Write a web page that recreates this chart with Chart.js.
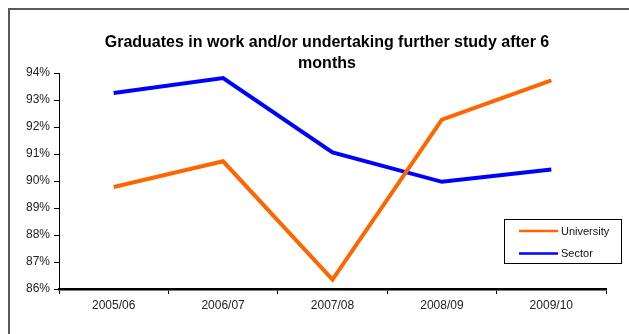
<!DOCTYPE html>
<html>
<head>
<meta charset="utf-8">
<title>Graduates in work and/or further study</title>
<script src="https://cdn.jsdelivr.net/npm/chart.js@4/dist/chart.umd.min.js"></script>
<style>
  html, body { margin: 0; padding: 0; background: #fff; }
  #wrap { width: 629px; height: 334px; }
</style>
</head>
<body>
<div id="wrap"><canvas id="gradChart" width="629" height="334"></canvas></div>
<script>
const years = ["2005/06", "2006/07", "2007/08", "2008/09", "2009/10"];
const university = [89.78, 90.73, 86.35, 92.27, 93.73];
const sector = [93.26, 93.81, 91.06, 89.97, 90.43];
const titleLines = ["Graduates in work and/or undertaking further study after 6", "months"];
const yMin = 86;
const yMax = 94;

const FONT = "'Liberation Sans', Arial, sans-serif";

// grey frame around the whole chart (only top and left edges fall inside the canvas)
const framePlugin = {
  id: "frame",
  beforeDraw(chart) {
    const ctx = chart.ctx;
    ctx.save();
    ctx.fillStyle = "#fff";
    ctx.fillRect(0, 0, chart.width, chart.height);
    ctx.strokeStyle = "#5a5a5a";
    ctx.lineWidth = 2;
    ctx.beginPath();
    ctx.moveTo(9, chart.height);
    ctx.lineTo(9, 9);
    ctx.lineTo(chart.width, 9);
    ctx.stroke();
    ctx.restore();
  }
};

// two-line bold title, squeezed a little like the original chart
const titlePlugin = {
  id: "twoLineTitle",
  afterDraw(chart) {
    const ctx = chart.ctx;
    ctx.save();
    ctx.fillStyle = "#000";
    ctx.font = "bold 16px " + FONT;
    ctx.textAlign = "center";
    ctx.textBaseline = "alphabetic";
    ctx.fillText(titleLines[0], 327, 47, 448);
    ctx.fillText(titleLines[1], 327, 68);
    ctx.restore();
  }
};

// boxed legend sitting in the lower right of the plot
const boxLegendPlugin = {
  id: "boxLegend",
  afterDraw(chart) {
    const ctx = chart.ctx;
    const box = { x: 504.5, y: 219.5, w: 117, h: 44 };
    ctx.save();
    ctx.fillStyle = "#fff";
    ctx.fillRect(box.x, box.y, box.w, box.h);
    ctx.strokeStyle = "#000";
    ctx.lineWidth = 1;
    ctx.strokeRect(box.x, box.y, box.w, box.h);
    ctx.font = "11px " + FONT;
    ctx.textAlign = "left";
    ctx.textBaseline = "middle";
    chart.data.datasets.forEach((ds, i) => {
      const y = 231 + i * 22.5;
      ctx.strokeStyle = ds.borderColor;
      ctx.lineWidth = 2.5;
      ctx.beginPath();
      ctx.moveTo(519, y);
      ctx.lineTo(558, y);
      ctx.stroke();
      ctx.fillStyle = "#111";
      ctx.fillText(ds.label, 561, y + 0.5);
    });
    ctx.restore();
  }
};

new Chart(document.getElementById("gradChart"), {
  type: "line",
  data: {
    labels: years,
    datasets: [
      {
        label: "University",
        data: university,
        borderColor: "#ff6600",
        backgroundColor: "#ff6600",
        borderWidth: 4,
        borderJoinStyle: "miter",
        pointRadius: 0,
        tension: 0
      },
      {
        label: "Sector",
        data: sector,
        borderColor: "#0000ff",
        backgroundColor: "#0000ff",
        borderWidth: 4,
        borderJoinStyle: "miter",
        pointRadius: 0,
        tension: 0
      }
    ]
  },
  options: {
    responsive: false,
    animation: false,
    layout: { padding: { top: 73, right: 23, bottom: 0, left: 0 } },
    plugins: {
      legend: { display: false },
      title: { display: false },
      tooltip: { enabled: false }
    },
    scales: {
      x: {
        offset: true,
        grid: {
          offset: true,
          drawOnChartArea: false,
          drawTicks: true,
          tickLength: 5,
          color: "#000",
          lineWidth: 1
        },
        border: { color: "#000", width: 2.5 },
        ticks: {
          color: "#222",
          font: { family: FONT, size: 12 },
          padding: 4,
          maxRotation: 0
        },
        afterFit(scale) { scale.height = 45; }
      },
      y: {
        min: yMin,
        max: yMax,
        grid: {
          drawOnChartArea: false,
          drawTicks: true,
          tickLength: 5,
          color: "#000",
          lineWidth: 1
        },
        border: { color: "#000", width: 1 },
        ticks: {
          stepSize: 1,
          color: "#222",
          font: { family: FONT, size: 12 },
          padding: 4,
          callback: v => v + "%"
        },
        afterFit(scale) { scale.width = 59; }
      }
    }
  },
  plugins: [framePlugin, titlePlugin, boxLegendPlugin]
});
</script>
</body>
</html>
